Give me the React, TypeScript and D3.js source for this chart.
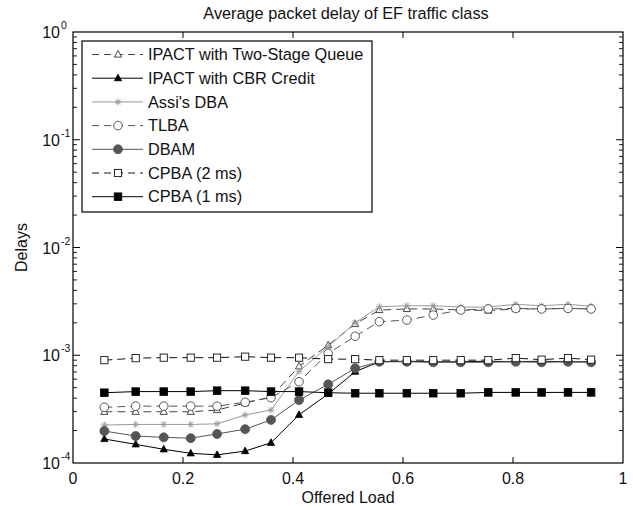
import React from "react";
import * as d3 from "d3";

const loads = [0.057, 0.114, 0.165, 0.214, 0.262, 0.313, 0.36, 0.411, 0.464, 0.513, 0.557, 0.607, 0.655, 0.705, 0.755, 0.805, 0.852, 0.9, 0.942];

const twoStage = [0.000299, 0.000299, 0.000299, 0.000299, 0.00031, 0.00036, 0.00041, 0.00079, 0.00124, 0.00195, 0.00263, 0.00269, 0.00269, 0.00263, 0.0026, 0.00269, 0.00269, 0.00272, 0.00269];
const cbrCredit = [0.000167, 0.000149, 0.000134, 0.000123, 0.000119, 0.000129, 0.000154, 0.00028, 0.000437, 0.000704, 0.00087, 0.00088, 0.00087, 0.00087, 0.00088, 0.00087, 0.00088, 0.00087, 0.00087];
const assiDBA = [0.000225, 0.000228, 0.000228, 0.000228, 0.000231, 0.000279, 0.00031, 0.00071, 0.0012, 0.002, 0.00282, 0.00288, 0.00288, 0.0028, 0.0028, 0.00297, 0.00288, 0.00297, 0.00285];
const tlba = [0.000329, 0.000337, 0.000337, 0.000337, 0.000337, 0.000366, 0.000404, 0.000568, 0.00104, 0.0015, 0.00205, 0.00212, 0.00236, 0.00263, 0.00269, 0.00272, 0.00269, 0.00272, 0.00269];
const dbam = [0.000198, 0.000178, 0.000173, 0.00017, 0.000186, 0.000206, 0.000251, 0.000384, 0.000537, 0.000756, 0.00087, 0.00087, 0.00086, 0.00086, 0.00086, 0.00087, 0.00086, 0.00087, 0.00086];
const cpba2 = [0.0009, 0.00094, 0.00095, 0.00095, 0.00095, 0.00097, 0.00095, 0.00095, 0.00092, 0.00092, 0.0009, 0.0009, 0.0009, 0.0009, 0.0009, 0.00094, 0.00091, 0.00094, 0.00091];
const cpba1 = [0.000449, 0.00046, 0.00046, 0.00046, 0.000469, 0.000469, 0.00046, 0.00046, 0.000449, 0.000444, 0.000444, 0.000444, 0.000444, 0.000444, 0.000452, 0.000452, 0.000452, 0.000452, 0.000452];

const seriesNames = ["IPACT with Two-Stage Queue", "IPACT with CBR Credit", "Assi's DBA", "TLBA", "DBAM", "CPBA (2 ms)", "CPBA (1 ms)"];
const xTicks = [0, 0.2, 0.4, 0.6, 0.8, 1];
const yExponents = [0, -1, -2, -3, -4];

type Marker = "triOpen" | "triFill" | "star" | "circOpen" | "circFill" | "sqOpen" | "sqFill";
interface Series { name: string; values: number[]; color: string; dashed: boolean; marker: Marker; markerColor: string; }

const series: Series[] = [
  { name: seriesNames[0], values: twoStage, color: "#444", dashed: true, marker: "triOpen", markerColor: "#333" },
  { name: seriesNames[1], values: cbrCredit, color: "#000", dashed: false, marker: "triFill", markerColor: "#000" },
  { name: seriesNames[2], values: assiDBA, color: "#9a9a9a", dashed: false, marker: "star", markerColor: "#9a9a9a" },
  { name: seriesNames[3], values: tlba, color: "#555", dashed: true, marker: "circOpen", markerColor: "#444" },
  { name: seriesNames[4], values: dbam, color: "#555", dashed: false, marker: "circFill", markerColor: "#555" },
  { name: seriesNames[5], values: cpba2, color: "#111", dashed: true, marker: "sqOpen", markerColor: "#111" },
  { name: seriesNames[6], values: cpba1, color: "#000", dashed: false, marker: "sqFill", markerColor: "#000" },
];

const L = 73, R = 623, T = 32, B = 463;
const FONT = "'Liberation Sans', Arial, Helvetica, sans-serif";

function MarkerShape({ type, x, y, color }: { type: Marker; x: number; y: number; color: string }) {
  switch (type) {
    case "triOpen":
      return <path d={`M${x},${y - 4} L${x + 3.6},${y + 2.6} L${x - 3.6},${y + 2.6} Z`} fill="#fff" stroke={color} strokeWidth={0.9} />;
    case "triFill":
      return <path d={`M${x},${y - 4} L${x + 3.6},${y + 2.6} L${x - 3.6},${y + 2.6} Z`} fill={color} stroke={color} strokeWidth={0.8} />;
    case "star":
      return (
        <g stroke={color} strokeWidth={1}>
          <line x1={x - 3.5} y1={y} x2={x + 3.5} y2={y} />
          <line x1={x} y1={y - 3.5} x2={x} y2={y + 3.5} />
          <line x1={x - 2.5} y1={y - 2.5} x2={x + 2.5} y2={y + 2.5} />
          <line x1={x - 2.5} y1={y + 2.5} x2={x + 2.5} y2={y - 2.5} />
        </g>
      );
    case "circOpen":
      return <circle cx={x} cy={y} r={4.3} fill="#fff" stroke={color} strokeWidth={0.9} />;
    case "circFill":
      return <circle cx={x} cy={y} r={4.5} fill={color} stroke={color} strokeWidth={0.8} />;
    case "sqOpen":
      return <rect x={x - 3.6} y={y - 3.6} width={7.2} height={7.2} fill="#fff" stroke={color} strokeWidth={0.9} />;
    case "sqFill":
      return <rect x={x - 3.8} y={y - 3.8} width={7.6} height={7.6} fill={color} stroke={color} strokeWidth={0.8} />;
  }
}

export default function App() {
  const x = d3.scaleLinear().domain([0, 1]).range([L, R]);
  const y = d3.scaleLog().domain([1e-4, 1]).range([B, T]);
  const line = d3.line<number>().x((_, i) => x(loads[i])).y((d) => y(d));

  const minorTicks: number[] = [];
  for (let e = -4; e < 0; e++) {
    for (let m = 2; m <= 9; m++) minorTicks.push(m * Math.pow(10, e));
  }

  const legendX = 82, legendY = 41, legendW = 290, legendH = 171;
  const rowH = 23.7;

  return (
    <svg width={633} height={510} style={{ position: "absolute", left: 0, top: 0, background: "#fff" }} fontFamily={FONT}>
      <rect x={0} y={0} width={633} height={510} fill="#fff" />
      {/* title */}
      <text x={(L + R) / 2 - 2} y={18.5} textAnchor="middle" fontSize={16.3} fill="#111">Average packet delay of EF traffic class</text>

      {/* ticks */}
      {xTicks.slice(1, -1).map((t) => (
        <g key={"xt" + t} stroke="#000" strokeWidth={1}>
          <line x1={x(t)} y1={B} x2={x(t)} y2={B - 6} />
          <line x1={x(t)} y1={T} x2={x(t)} y2={T + 6} />
        </g>
      ))}
      {yExponents.slice(1, -1).map((e) => (
        <g key={"yt" + e} stroke="#000" strokeWidth={1}>
          <line x1={L} y1={y(Math.pow(10, e))} x2={L + 7} y2={y(Math.pow(10, e))} />
          <line x1={R} y1={y(Math.pow(10, e))} x2={R - 7} y2={y(Math.pow(10, e))} />
        </g>
      ))}
      {minorTicks.map((t, i) => (
        <g key={"mt" + i} stroke="#000" strokeWidth={0.9}>
          <line x1={L} y1={y(t)} x2={L + 4} y2={y(t)} />
          <line x1={R} y1={y(t)} x2={R - 4} y2={y(t)} />
        </g>
      ))}

      {/* x tick labels */}
      {xTicks.map((t) => (
        <text key={"xl" + t} x={x(t)} y={484} textAnchor="middle" fontSize={16} fill="#111">{t === 0 || t === 1 ? String(t) : t.toFixed(1)}</text>
      ))}
      {/* y tick labels */}
      {yExponents.map((e) => {
        const yy = y(Math.pow(10, e));
        return (
          <g key={"yl" + e} fill="#111">
            <text x={60} y={yy + 6} textAnchor="end" fontSize={16}>10</text>
            <text x={61} y={yy - 3} textAnchor="start" fontSize={10.5}>{String(e)}</text>
          </g>
        );
      })}

      {/* axis labels */}
      <text x={(L + R) / 2} y={503} textAnchor="middle" fontSize={16} fill="#111">Offered Load</text>
      <text transform={`translate(27,${(T + B) / 2}) rotate(-90)`} textAnchor="middle" fontSize={16} fill="#111">Delays</text>

      {/* series */}
      {series.map((s, si) => (
        <g key={"s" + si}>
          <path d={line(s.values) || ""} fill="none" stroke={s.color} strokeWidth={1} strokeDasharray={s.dashed ? "8,5" : undefined} />
          {s.values.map((v, i) => (
            <MarkerShape key={i} type={s.marker} x={x(loads[i])} y={y(v)} color={s.markerColor} />
          ))}
        </g>
      ))}

      {/* frame */}
      <rect x={L} y={T} width={R - L} height={B - T} fill="none" stroke="#000" strokeWidth={1.2} />

      {/* legend */}
      <rect x={legendX} y={legendY} width={legendW} height={legendH} fill="#fff" stroke="#000" strokeWidth={1.2} />
      {series.map((s, i) => {
        const cy = legendY + 13.5 + i * rowH;
        return (
          <g key={"lg" + i}>
            <line x1={92} y1={cy} x2={143} y2={cy} stroke={s.color} strokeWidth={1} strokeDasharray={s.dashed ? "7,5" : undefined} />
            <MarkerShape type={s.marker} x={118} y={cy} color={s.markerColor} />
            <text x={148} y={cy + 5.7} fontSize={16.3} fill="#111">{s.name}</text>
          </g>
        );
      })}
    </svg>
  );
}
